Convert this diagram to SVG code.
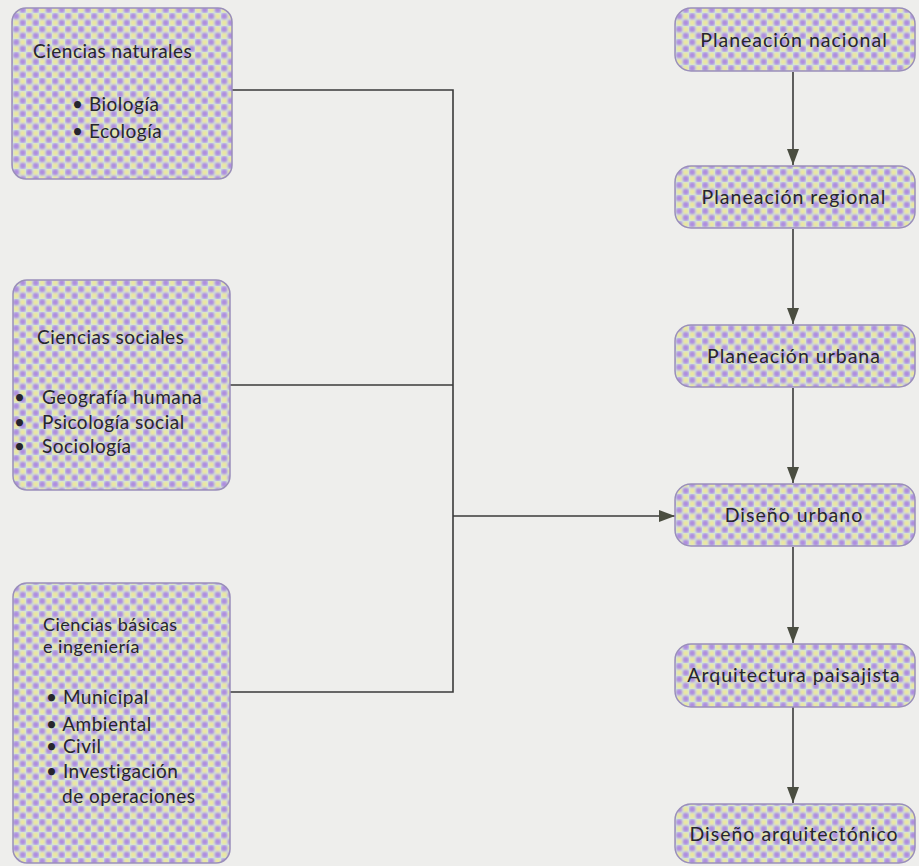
<svg xmlns="http://www.w3.org/2000/svg" width="919" height="866" viewBox="0 0 919 866">
<style>
.bg{fill:#eeeeec}
.box{fill:url(#dots);stroke:#9a8fba;stroke-width:1.5}
.t{font-family:"Lato","Liberation Sans",sans-serif;font-size:19px;letter-spacing:0.5px;fill:#26262e}
.s{font-size:18px}
.r{font-size:19.5px;letter-spacing:1px;text-anchor:middle}
.ln{fill:none;stroke:#3a3a3a;stroke-width:1.6}
</style>
<defs>
<filter id="soft" x="0" y="0" width="1" height="1"><feGaussianBlur stdDeviation="0.9"/></filter>
<pattern id="dots" width="13" height="13" patternUnits="userSpaceOnUse">
<rect width="13" height="13" fill="#d0e4e2"/>
<g filter="url(#soft)">
<circle cx="3.25" cy="3.25" r="3.2" fill="#ad8cdf"/>
<circle cx="9.75" cy="9.75" r="3.2" fill="#ad8cdf"/>
<circle cx="9.75" cy="3.25" r="2.9" fill="#ebe79f"/>
<circle cx="3.25" cy="9.75" r="2.9" fill="#ebe79f"/>
</g>
</pattern>
<marker id="ah" viewBox="0 0 16 12" refX="16" refY="6" markerWidth="16" markerHeight="12" markerUnits="userSpaceOnUse" orient="auto">
<path d="M0,0 L16,6 L0,12 Z" fill="#4a4d40"/>
</marker>
</defs>
<rect class="bg" width="919" height="866"/>

<g id="connectors">
<path class="ln" d="M232,90 H453 V692 H230"/>
<path class="ln" d="M230,385 H453"/>
<path class="ln" d="M453,516 H675" marker-end="url(#ah)"/>
<path class="ln" d="M793,72 V165" marker-end="url(#ah)"/>
<path class="ln" d="M793,229 V324" marker-end="url(#ah)"/>
<path class="ln" d="M793,388 V483" marker-end="url(#ah)"/>
<path class="ln" d="M793,547 V643" marker-end="url(#ah)"/>
<path class="ln" d="M793,707 V803" marker-end="url(#ah)"/>
</g>

<g id="n-naturales">
<rect class="box" x="12" y="8" width="220" height="171" rx="14"/>
<text class="t" x="33" y="58">Ciencias naturales</text>
<text class="t" x="72" y="111">• Biología</text>
<text class="t" x="72" y="138">• Ecología</text>
</g>

<g id="n-sociales">
<rect class="box" x="13" y="280" width="217" height="210" rx="14"/>
<text class="t" x="37" y="344">Ciencias sociales</text>
<text class="t" x="14" y="404">•</text>
<text class="t" x="42" y="404">Geografía humana</text>
<text class="t" x="14" y="429">•</text>
<text class="t" x="42" y="429">Psicología social</text>
<text class="t" x="14" y="453">•</text>
<text class="t" x="42" y="453">Sociología</text>
</g>

<g id="n-basicas">
<rect class="box" x="13" y="583" width="217" height="280" rx="14"/>
<text class="t s" x="43" y="631">Ciencias básicas</text>
<text class="t s" x="43" y="653">e ingeniería</text>
<text class="t" x="46" y="704">• Municipal</text>
<text class="t" x="46" y="731">• Ambiental</text>
<text class="t" x="46" y="753">• Civil</text>
<text class="t" x="46" y="778">• Investigación</text>
<text class="t" x="62" y="803">de operaciones</text>
</g>

<g id="n-nacional">
<rect class="box" x="675" y="8" width="240" height="63" rx="16"/>
<text class="t r" x="794" y="47">Planeación nacional</text>
</g>
<g id="n-regional">
<rect class="box" x="675" y="166" width="240" height="62" rx="16"/>
<text class="t r" x="794" y="204">Planeación regional</text>
</g>
<g id="n-urbana">
<rect class="box" x="675" y="325" width="240" height="62" rx="16"/>
<text class="t r" x="794" y="363">Planeación urbana</text>
</g>
<g id="n-disurb">
<rect class="box" x="675" y="484" width="240" height="62" rx="16"/>
<text class="t r" x="794" y="522">Diseño urbano</text>
</g>
<g id="n-paisaj">
<rect class="box" x="675" y="644" width="240" height="63" rx="16"/>
<text class="t r" x="794" y="682">Arquitectura paisajista</text>
</g>
<g id="n-arq">
<rect class="box" x="675" y="804" width="240" height="59" rx="16"/>
<text class="t r" x="794" y="841">Diseño arquitectónico</text>
</g>
</svg>
